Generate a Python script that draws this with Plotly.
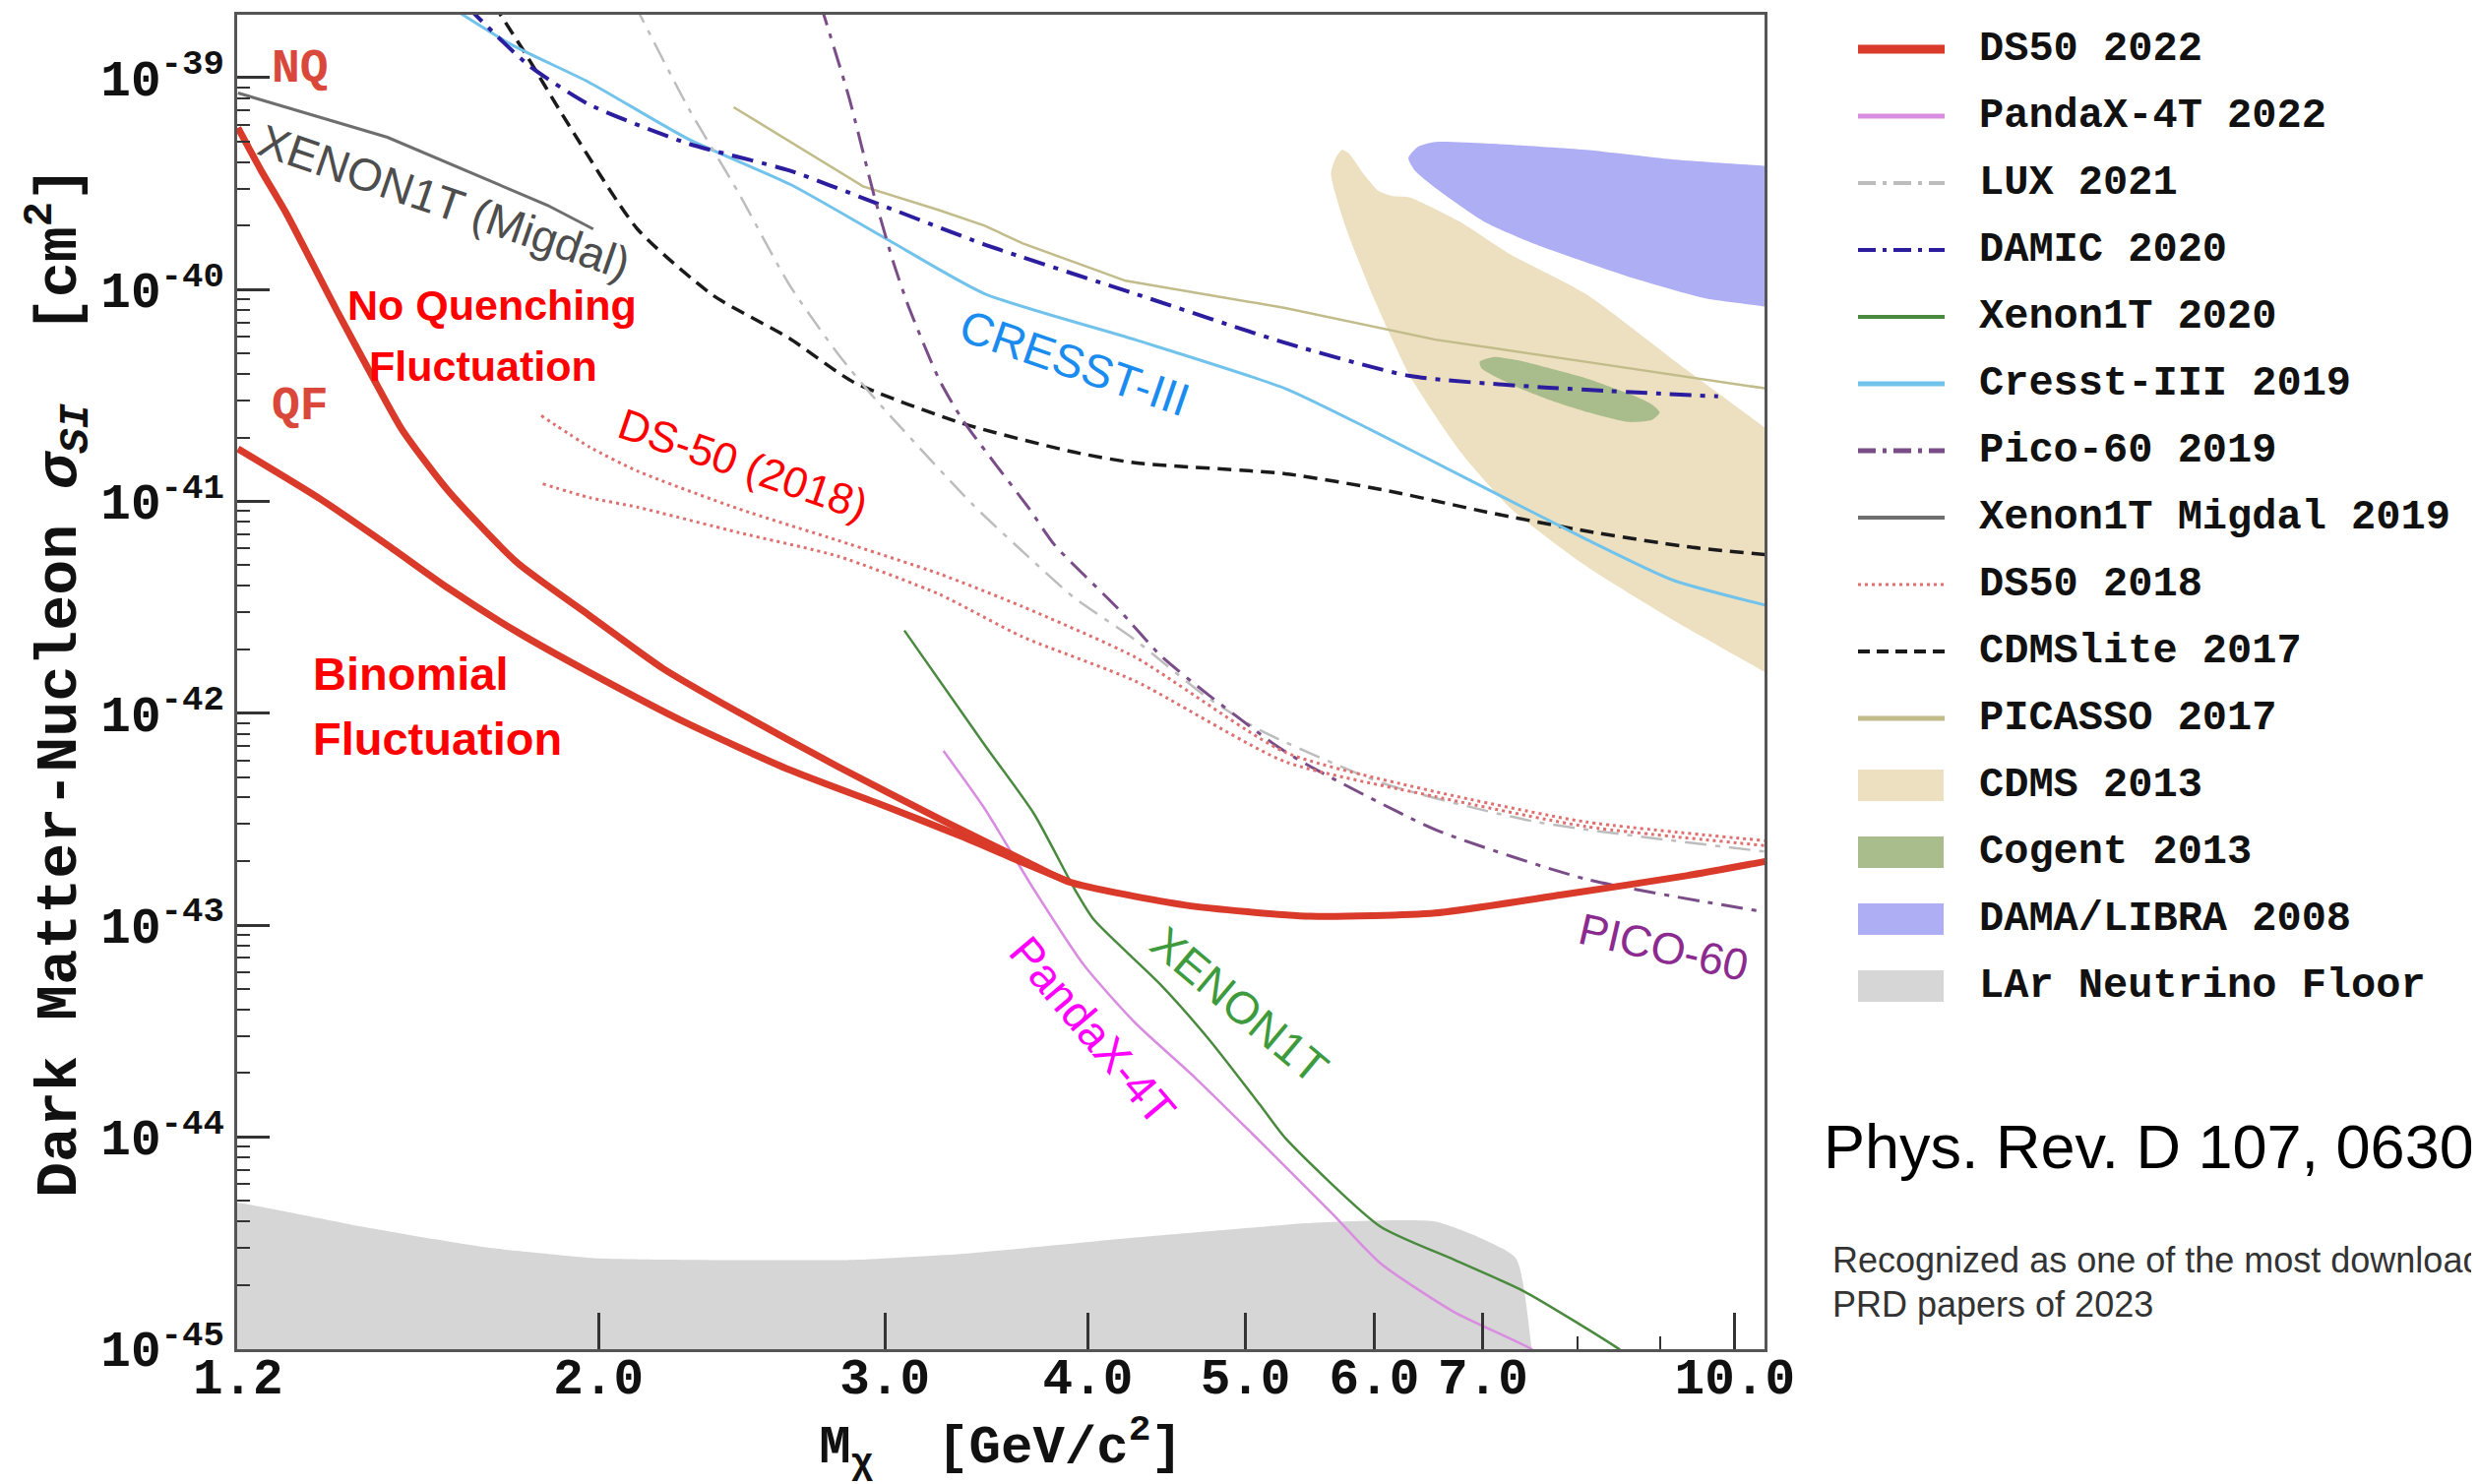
import plotly.graph_objects as go

# ---------------- data ----------------
ds50_2022_nq_x = [1.2, 1.24, 1.285, 1.332, 1.381, 1.451, 1.514, 1.615, 1.782, 1.971, 2.19, 2.438,
                  2.807, 3.239, 3.648, 3.894, 4.595, 5.483, 6.544, 7.825, 9.339, 10.45]
ds50_2022_nq_y = [5.80e-40, 3.65e-40, 2.29e-40, 1.35e-40, 7.90e-41, 3.91e-41, 2.18e-41, 1.13e-41,
                  5.14e-42, 2.92e-42, 1.63e-42, 1.01e-42, 5.60e-43, 3.18e-43, 2.03e-43, 1.60e-43,
                  1.24e-43, 1.10e-43, 1.14e-43, 1.39e-43, 1.71e-43, 2.00e-43]
ds50_2022_qf_x = [1.2, 1.350, 1.483, 1.615, 1.782, 1.971, 2.270, 2.619, 3.016, 3.358, 3.648, 3.894]
ds50_2022_qf_y = [1.77e-41, 1.02e-41, 6.22e-42, 3.91e-42, 2.42e-42, 1.57e-42, 8.92e-43, 5.42e-43,
                  3.59e-43, 2.59e-43, 1.97e-43, 1.60e-43]

pandax_x = [3.260, 3.452, 3.706, 3.980, 4.276, 4.657, 5.137, 5.657, 6.051, 6.721, 7.482, 7.686]
pandax_y = [6.65e-43, 3.59e-43, 1.47e-43, 6.43e-44, 3.46e-44, 1.90e-44, 9.07e-45, 4.33e-45,
            2.54e-45, 1.49e-45, 1.005e-45, 8.61e-46]

lux_x = [2.103, 2.270, 2.438, 2.619, 2.807, 2.962, 3.395, 3.673, 3.919, 4.276, 4.720, 5.103,
         6.091, 7.549, 10.45]
lux_y = [2.25e-39, 7.25e-40, 2.87e-40, 1.06e-40, 4.97e-41, 3.02e-41, 9.71e-42, 5.51e-42, 3.53e-42,
         2.22e-42, 1.21e-42, 8.32e-43, 4.64e-43, 3.07e-43, 2.22e-43]

damic_x = [1.659, 1.810, 1.971, 2.270, 2.619, 2.936, 3.456, 4.276, 5.290, 6.312, 7.600, 9.766]
damic_y = [2.18e-39, 1.15e-39, 7.51e-40, 4.89e-40, 3.65e-40, 2.63e-40, 1.63e-40, 9.55e-41,
           5.60e-41, 3.91e-41, 3.46e-41, 3.13e-41]

xenon1t_x = [3.084, 3.448, 3.706, 3.927, 4.034, 4.434, 4.751, 5.103, 5.290, 6.051, 6.721, 7.416,
             8.465, 8.695]
xenon1t_y = [2.46e-42, 7.25e-43, 3.35e-43, 1.47e-43, 1.06e-43, 5.23e-44, 2.87e-44, 1.42e-44,
             9.88e-45, 3.78e-45, 2.63e-45, 1.87e-45, 1.01e-45, 8.61e-46]

cresst_x = [1.612, 1.771, 1.971, 2.270, 2.625, 3.016, 3.456, 4.276, 5.290, 5.970, 6.842, 8.094,
            9.152, 10.45]
cresst_y = [2.22e-39, 1.42e-39, 9.55e-40, 5.14e-40, 3.13e-40, 1.71e-40, 9.55e-41, 5.80e-41,
            3.41e-41, 2.18e-41, 1.28e-41, 6.65e-42, 4.26e-42, 3.23e-42]

pico_x = [2.739, 2.852, 2.955, 3.036, 3.105, 3.239, 3.350, 3.681, 3.816, 4.172, 4.434, 4.720,
          5.242, 5.483, 6.544, 8.094, 10.45]
pico_y = [2.22e-39, 8.04e-40, 2.77e-40, 1.35e-40, 8.18e-41, 3.78e-41, 2.42e-41, 9.23e-42,
          6.22e-42, 3.13e-42, 1.87e-42, 1.26e-42, 6.89e-43, 5.60e-43, 2.82e-43, 1.65e-43, 1.15e-43]

migdal_x = [1.2, 1.483, 1.860, 1.985]
migdal_y = [8.47e-40, 5.23e-40, 2.50e-40, 1.93e-40]

ds50_2018_hi_x = [1.844, 1.976, 2.113, 2.438, 2.807, 3.239, 3.648, 4.276, 5.290, 6.544, 8.094, 10.45]
ds50_2018_hi_y = [2.54e-41, 1.80e-41, 1.39e-41, 9.23e-42, 6.54e-42, 4.56e-42, 3.18e-42, 1.84e-42,
                  6.54e-43, 4.26e-43, 3.07e-43, 2.50e-43]
ds50_2018_lo_x = [1.848, 1.976, 2.113, 2.438, 2.807, 3.239, 3.648, 4.276, 5.290, 6.544, 8.094, 10.45]
ds50_2018_lo_y = [1.21e-41, 1.04e-41, 9.39e-42, 7.13e-42, 5.51e-42, 3.65e-42, 2.29e-42, 1.42e-42,
                  5.90e-43, 4.04e-43, 2.92e-43, 2.37e-43]

cdmslite_x = [1.724, 1.810, 1.901, 2.113, 2.352, 2.619, 2.871, 3.350, 3.919, 4.276, 5.290, 6.091,
              7.030, 8.094, 9.339, 10.45]
cdmslite_y = [2.22e-39, 1.24e-39, 6.65e-40, 1.93e-40, 9.39e-41, 5.90e-41, 3.65e-41, 2.33e-41,
              1.71e-41, 1.52e-41, 1.35e-41, 1.13e-41, 8.92e-42, 7.25e-42, 6.11e-42, 5.60e-42]

picasso_x = [2.422, 2.909, 3.239, 3.456, 3.648, 4.219, 5.290, 6.544, 8.094, 10.45]
picasso_y = [7.25e-40, 3.07e-40, 2.37e-40, 2.00e-40, 1.65e-40, 1.10e-40, 8.18e-41, 5.80e-41,
             4.56e-41, 3.41e-41]

cdms2013_x = [5.644, 5.682, 5.733, 5.785, 5.929, 6.037, 6.146, 6.312, 6.766, 7.251, 8.094, 9.339,
              10.42, 11.0, 11.0, 10.42, 9.152, 8.094, 7.284, 6.781, 6.312, 6.010, 5.759, 5.644]
cdms2013_y = [3.53e-40, 4.18e-40, 4.56e-40, 4.41e-40, 3.41e-40, 2.92e-40, 2.77e-40, 2.72e-40,
              2.10e-40, 1.49e-40, 9.55e-41, 4.18e-41, 2.25e-41, 1.65e-41, 1.21e-42, 1.57e-42,
              2.77e-42, 4.97e-42, 9.23e-42, 1.71e-41, 3.91e-41, 8.76e-41, 2.00e-40, 3.53e-40]

cogent_x = [6.967, 7.109, 7.350, 7.686, 8.130, 8.598, 8.892, 8.992, 8.892, 8.598, 8.130, 7.686,
            7.350, 7.109, 6.983, 6.967]
cogent_y = [4.56e-41, 4.80e-41, 4.64e-41, 4.26e-41, 3.78e-41, 3.23e-41, 2.87e-41, 2.63e-41,
            2.42e-41, 2.37e-41, 2.63e-41, 3.02e-41, 3.46e-41, 3.91e-41, 4.26e-41, 4.56e-41]

dama_x = [6.298, 6.383, 6.544, 7.030, 8.094, 9.152, 10.42, 10.87, 10.87, 10.42, 9.594, 8.695,
          7.549, 7.030, 6.544, 6.355, 6.298]
dama_y = [4.18e-40, 4.72e-40, 4.97e-40, 4.89e-40, 4.56e-40, 4.11e-40, 3.84e-40, 3.78e-40,
          7.77e-41, 8.32e-41, 9.07e-41, 1.12e-40, 1.63e-40, 2.07e-40, 3.02e-40, 3.65e-40, 4.18e-40]

lar_floor_x = [1.15, 1.2, 1.45, 1.701, 1.986, 2.275, 2.871, 3.373, 4.172, 5.160, 5.446, 6.558,
               7.333, 7.502, 7.62, 1.15]
lar_floor_y = [4.95e-45, 4.89e-45, 3.70e-45, 3.02e-45, 2.68e-45, 2.63e-45, 2.63e-45, 2.82e-45,
               3.29e-45, 3.78e-45, 3.91e-45, 3.97e-45, 2.68e-45, 1.00e-45, 5.0e-46, 5.0e-46]

x_tick_vals = [1.2, 2, 3, 4, 5, 6, 7, 10]
x_tick_text = ["1.2", "2.0", "3.0", "4.0", "5.0", "6.0", "7.0", "10.0"]
x_minor_vals = [8, 9]
y_tick_vals = [1e-45, 1e-44, 1e-43, 1e-42, 1e-41, 1e-40, 1e-39]
y_tick_text = ["10<sup>-45</sup>", "10<sup>-44</sup>", "10<sup>-43</sup>", "10<sup>-42</sup>",
               "10<sup>-41</sup>", "10<sup>-40</sup>", "10<sup>-39</sup>"]
y_minor_vals = [m * 10.0 ** e for e in range(-45, -39) for m in range(2, 10)]

legend_names = ["DS50 2022", "PandaX-4T 2022", "LUX 2021", "DAMIC 2020", "Xenon1T 2020",
                "Cresst-III 2019", "Pico-60 2019", "Xenon1T Migdal 2019", "DS50 2018",
                "CDMSlite 2017", "PICASSO 2017", "CDMS 2013", "Cogent 2013", "DAMA/LIBRA 2008",
                "LAr Neutrino Floor"]

# ---------------- styles ----------------
MONO = "Liberation Mono, Courier New, monospace"
SANS = "Liberation Sans, Arial, Helvetica, sans-serif"
DASHDOT = "22px,9px,5px,9px"

C_DS22 = "#d93a2a"
C_PANDA = "#d98de0"
C_LUX = "#bdbdbd"
C_DAMIC = "#2b1d9e"
C_XE = "#4a8a3e"
C_CRESST = "#72c3ec"
C_PICO = "#7b4d88"
C_MIG = "#6e6e6e"
C_DS18 = "#e07070"
C_CDMSL = "#1a1a1a"
C_PICASSO = "#c2bb8a"
C_CDMS = "#ece0c0"
C_COGENT = "#a9bd8c"
C_DAMA = "#aeaef5"
C_LAR = "#d6d6d6"

fig = go.Figure()


def fill_trace(x, y, color, name, smooth=0.6):
    fig.add_trace(go.Scatter(x=x, y=y, mode="lines", fill="toself", fillcolor=color,
                             line=dict(width=0, color=color, shape="spline", smoothing=smooth),
                             name=name, showlegend=False, hoverinfo="skip"))


def line_trace(x, y, color, width, name, dash="solid", smooth=True):
    fig.add_trace(go.Scatter(x=x, y=y, mode="lines",
                             line=dict(color=color, width=width, dash=dash,
                                       shape="spline" if smooth else "linear", smoothing=0.6),
                             name=name, showlegend=False))


fill_trace(lar_floor_x, lar_floor_y, C_LAR, "LAr Neutrino Floor", smooth=0.5)
fill_trace(cdms2013_x, cdms2013_y, C_CDMS, "CDMS 2013")
fill_trace(dama_x, dama_y, C_DAMA, "DAMA/LIBRA 2008")
fill_trace(cogent_x, cogent_y, C_COGENT, "Cogent 2013")

line_trace(picasso_x, picasso_y, C_PICASSO, 2.5, "PICASSO 2017", smooth=False)
line_trace(cdmslite_x, cdmslite_y, C_CDMSL, 3.5, "CDMSlite 2017", dash="14px,8px")
line_trace(cresst_x, cresst_y, C_CRESST, 3, "Cresst-III 2019")
line_trace(damic_x, damic_y, C_DAMIC, 4, "DAMIC 2020", dash=DASHDOT)
line_trace(lux_x, lux_y, C_LUX, 2.5, "LUX 2021", dash=DASHDOT)
line_trace(pico_x, pico_y, C_PICO, 3, "Pico-60 2019", dash=DASHDOT)
line_trace(migdal_x, migdal_y, C_MIG, 3, "Xenon1T Migdal 2019", smooth=False)
line_trace(ds50_2018_hi_x, ds50_2018_hi_y, C_DS18, 3, "DS50 2018", dash="3px,4px")
line_trace(ds50_2018_lo_x, ds50_2018_lo_y, C_DS18, 3, "DS50 2018", dash="3px,4px")
line_trace(pandax_x, pandax_y, C_PANDA, 2.5, "PandaX-4T 2022")
line_trace(xenon1t_x, xenon1t_y, C_XE, 2.5, "Xenon1T 2020")
line_trace(ds50_2022_qf_x, ds50_2022_qf_y, C_DS22, 7, "DS50 2022 (QF)")
line_trace(ds50_2022_nq_x, ds50_2022_nq_y, C_DS22, 7, "DS50 2022 (NQ)")

# ---------------- layout geometry (pixels) ----------------
# the page body adds an 8 px offset, so the figure is 8 px smaller and all
# window-pixel positions below are shifted by OFF.
OFF = 8
W, H = 2511, 1500
ML, MR, MT, MB = 233, 726, 7, 137
PL, PR, PT, PB = ML, W - MR, MT, H - MB


def xp(px):
    return (px - OFF - PL) / (PR - PL)


def yp(py):
    return (PB - (py - OFF)) / (PB - PT)


annotations = []


def label(text, px, py, color, size, angle=0, family=SANS, bold=False, xanchor="center"):
    annotations.append(dict(text=text, x=xp(px), y=yp(py), xref="paper", yref="paper",
                            showarrow=False, textangle=angle, xanchor=xanchor, yanchor="middle",
                            font=dict(family=family, size=size, color=color,
                                      weight="bold" if bold else "normal")))


label("NQ", 305, 70, "#d9483a", 48, family=MONO, bold=True)
label("QF", 305, 413, "#d9483a", 48, family=MONO, bold=True)
label("XENON1T (Migdal)", 451, 205, "#4d4d4d", 46, angle=19)
label("No Quenching", 500, 310, "#ff0000", 43, bold=True)
label("Fluctuation", 491, 372, "#ff0000", 43, bold=True)
label("Binomial", 316, 684, "#ff0000", 47, bold=True, xanchor="left")
label("Fluctuation", 316, 750, "#ff0000", 47, bold=True, xanchor="left")
label("DS-50 (2018)", 755, 472, "#ff0000", 44, angle=19)
label("CRESST-III", 1092, 368, "#1a8cf0", 47, angle=19)
label("PICO-60", 1690, 962, "#8b2b8f", 45, angle=13)
label("XENON1T", 1259, 1021, "#3d9a3d", 46, angle=40)
label("PandaX-4T", 1110, 1047, "#ff00ff", 46, angle=50)

label("Phys. Rev. D 107, 063001 (2023)", 1851, 1165, "#000000", 63, xanchor="left")
label("Recognized as one of the most downloaded", 1860, 1280, "#333333", 36, xanchor="left")
label("PRD papers of 2023", 1860, 1325, "#333333", 36, xanchor="left")

# ---------------- manual legend ----------------
shapes = []
legend_style = [
    ("line", C_DS22, 9, "solid"),
    ("line", C_PANDA, 5, "solid"),
    ("line", C_LUX, 4, "18px,7px,4px,7px"),
    ("line", C_DAMIC, 4, "18px,7px,4px,7px"),
    ("line", C_XE, 4, "solid"),
    ("line", C_CRESST, 5, "solid"),
    ("line", C_PICO, 5, "18px,7px,4px,7px"),
    ("line", C_MIG, 4, "solid"),
    ("line", C_DS18, 3, "3px,4px"),
    ("line", C_CDMSL, 4, "12px,7px"),
    ("line", C_PICASSO, 5, "solid"),
    ("rect", C_CDMS, 0, None),
    ("rect", C_COGENT, 0, None),
    ("rect", C_DAMA, 0, None),
    ("rect", C_LAR, 0, None),
]
for i, (name, (kind, color, width, dash)) in enumerate(zip(legend_names, legend_style)):
    cy = 50 + 68 * i
    if kind == "line":
        shapes.append(dict(type="line", xref="paper", yref="paper", x0=xp(1888), x1=xp(1976),
                           y0=yp(cy), y1=yp(cy), line=dict(color=color, width=width, dash=dash)))
    else:
        shapes.append(dict(type="rect", xref="paper", yref="paper", x0=xp(1888), x1=xp(1975),
                           y0=yp(cy + 16), y1=yp(cy - 16), fillcolor=color, line=dict(width=0)))
    label(name, 2009, cy, "#111111", 42, family=MONO, bold=True, xanchor="left")

axis_common = dict(showline=True, mirror=True, linecolor="#555555", linewidth=3,
                   showgrid=False, zeroline=False, ticks="inside", tickcolor="#333333",
                   tickwidth=2.5, automargin=False)

fig.update_layout(
    width=W, height=H,
    margin=dict(l=ML, r=MR, t=MT, b=MB, pad=0),
    paper_bgcolor="white", plot_bgcolor="white",
    showlegend=False,
    annotations=annotations,
    shapes=shapes,
    xaxis=dict(type="log", range=[0.0787, 1.0183], tickmode="array", tickvals=x_tick_vals,
               ticktext=x_tick_text, ticklen=37, ticklabelstandoff=-19,
               tickfont=dict(family=MONO, size=51, color="#111111", weight="bold"),
               minor=dict(tickmode="array", tickvals=x_minor_vals, ticks="inside", ticklen=13,
                          tickwidth=2, tickcolor="#333333", showgrid=False),
               title=dict(text="M<sub>χ</sub>  [GeV/c<sup>2</sup>]", standoff=35,
                          font=dict(family=MONO, size=54, color="#111111", weight="bold")),
               **axis_common),
    yaxis=dict(type="log", range=[-45.002, -38.703], tickmode="array", tickvals=y_tick_vals,
               ticktext=y_tick_text, ticklen=33,
               tickfont=dict(family=MONO, size=51, color="#111111", weight="bold"),
               minor=dict(tickmode="array", tickvals=y_minor_vals, ticks="inside", ticklen=13,
                          tickwidth=2, tickcolor="#333333", showgrid=False),
               title=dict(text="Dark Matter-Nucleon <b><i>σ</i></b><sub><i>SI</i></sub>  [cm<sup>2</sup>]\u00a0",
                          standoff=4,
                          font=dict(family=MONO, size=60, color="#111111", weight="bold")),
               **axis_common),
)

fig.write_html("out.html")
